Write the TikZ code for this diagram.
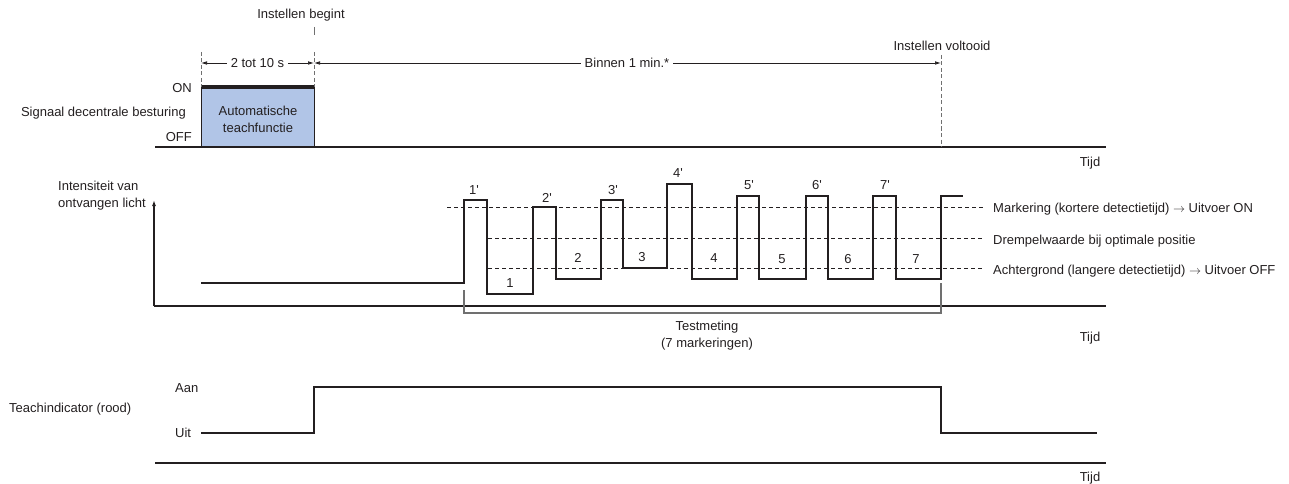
\documentclass[tikz,border=0pt]{standalone}
\usepackage{fontspec}
\setmainfont{Liberation Sans}
\usetikzlibrary{arrows.meta,positioning,calc}
\definecolor{tline}{HTML}{231F20}
\definecolor{tgray}{HTML}{707070}
\definecolor{tblue}{HTML}{B1C5E7}

\begin{document}
\begin{tikzpicture}[x=1pt,y=-1pt,
  lbl/.style={font=\fontsize{13}{17}\selectfont, text=tline, inner sep=1pt},
  wave/.style={tline, line width=2.7pt, line join=miter},
  axis/.style={tline, line width=1.5pt},
  level/.style={tline, line width=0.8pt, dash pattern=on 4pt off 3pt},
  guide/.style={tgray, line width=1pt, dash pattern=on 4pt off 2.5pt},
  dim/.style={tline, line width=0.7pt, {Latex[length=6pt,width=3.6pt]}-{Latex[length=6pt,width=3.6pt]}}]
 \useasboundingbox (0,0) rectangle (1289,484);
 \coordinate (tA) at (201,63);
 \coordinate (tB) at (314,63);
 \coordinate (tC) at (941,63);
 % remote signal
 \fill[tblue] (201,87) rectangle (314,147);
 \draw[tline, line width=0.8pt] (201,147) -- (201,87) -- (314,87) -- (314,147);
 \draw[tline, line width=3.4pt] (201,87) -- (314,87);
 \draw[axis] (155,147) -- (1106,147);
 \draw[guide] (201,52) -- (201,87);
 \draw[guide] (314,52) -- (314,87);
 \draw[guide] (941,55) -- (941,147);
 \draw[tgray, line width=1pt] (314,27) -- (314,35);
 \draw[dim] (tA) -- (tB);
 \draw[dim] (tB) -- (tC);
 \node[lbl, fill=white, inner xsep=4pt] (dur) at ($(tA)!0.5!(tB)$) {2 tot 10 s};
 \node[lbl, fill=white, inner xsep=4pt] (win) at (627,63) {Binnen 1 min.*};
 \node[lbl] (start) at (301,15) {Instellen begint};
 \node[lbl] (done) at (942,46) {Instellen voltooid};
 \node[lbl, align=center] (auto) at (258,119) {Automatische\\teachfunctie};
 \node[lbl, anchor=east] (sig) at (187,113) {Signaal decentrale besturing};
 \node[lbl, anchor=east] (on) at (193,88) {ON};
 \node[lbl, anchor=east] (off) at (193,137) {OFF};
 \node[lbl] (t1) at (1090,163) {Tijd};
 % received light
 \draw[axis, -{Latex[length=6pt,width=4pt]}] (154,306) -- (154,200);
 \draw[axis] (154,306) -- (1106,306);
 \node[lbl, align=left, anchor=west] (int) at (57,196) {Intensiteit van\\ontvangen licht};
 \draw[level] (447,207) -- (983,207);
 \draw[level] (488,238) -- (983,238);
 \draw[level] (488,268) -- (983,268);
 \draw[wave] (201,283) -- (464,283) -- (464,200) -- (487,200) -- (487,294)
   -- (533,294) -- (533,207) -- (556,207) -- (556,279) -- (601,279)
   -- (601,200) -- (623,200) -- (623,268) -- (667,268) -- (667,184)
   -- (692,184) -- (692,279) -- (737,279) -- (737,196) -- (759,196)
   -- (759,279) -- (806,279) -- (806,196) -- (828,196) -- (828,279)
   -- (873,279) -- (873,196) -- (896,196) -- (896,279) -- (941,279)
   -- (941,196) -- (963,196);
 \foreach \x/\y/\t [count=\i] in {474/190/1\textquotesingle, 547/198/2\textquotesingle, 613/190/3\textquotesingle,
                       678/173/4\textquotesingle, 749/185/5\textquotesingle, 817/185/6\textquotesingle, 885/185/7\textquotesingle,
                       510/283/1, 578/258/2, 642/257/3, 714/258/4, 782/259/5, 848/259/6, 916/259/7}
   \node[lbl] (m\i) at (\x,\y) {\t};
 \node[lbl, anchor=west] (mark) at (992,209) {Markering (kortere detectietijd) $\rightarrow$ Uitvoer ON};
 \node[lbl, anchor=west] (thr) at (992,241) {Drempelwaarde bij optimale positie};
 \node[lbl, anchor=west] (bg) at (992,271) {Achtergrond (langere detectietijd) $\rightarrow$ Uitvoer OFF};
 \draw[tgray, line width=1.1pt] (464,290) -- (464,313) -- (941,313) -- (941,283);
 \node[lbl, align=center] (test) at (707,336) {Testmeting\\(7 markeringen)};
 \node[lbl] (t2) at (1090,338) {Tijd};
 % teach indicator
 \draw[wave, line width=2.4pt] (201,433) -- (314,433) -- (314,387) -- (941,387) -- (941,433) -- (1097,433);
 \draw[axis] (155,463) -- (1106,463);
 \node[lbl, anchor=west] (ind) at (8,409) {Teachindicator (rood)};
 \node[lbl, anchor=west] (aan) at (174,388) {Aan};
 \node[lbl, anchor=west] (uit) at (174,433) {Uit};
 \node[lbl] (t3) at (1090,478) {Tijd};
\end{tikzpicture}
\end{document}
